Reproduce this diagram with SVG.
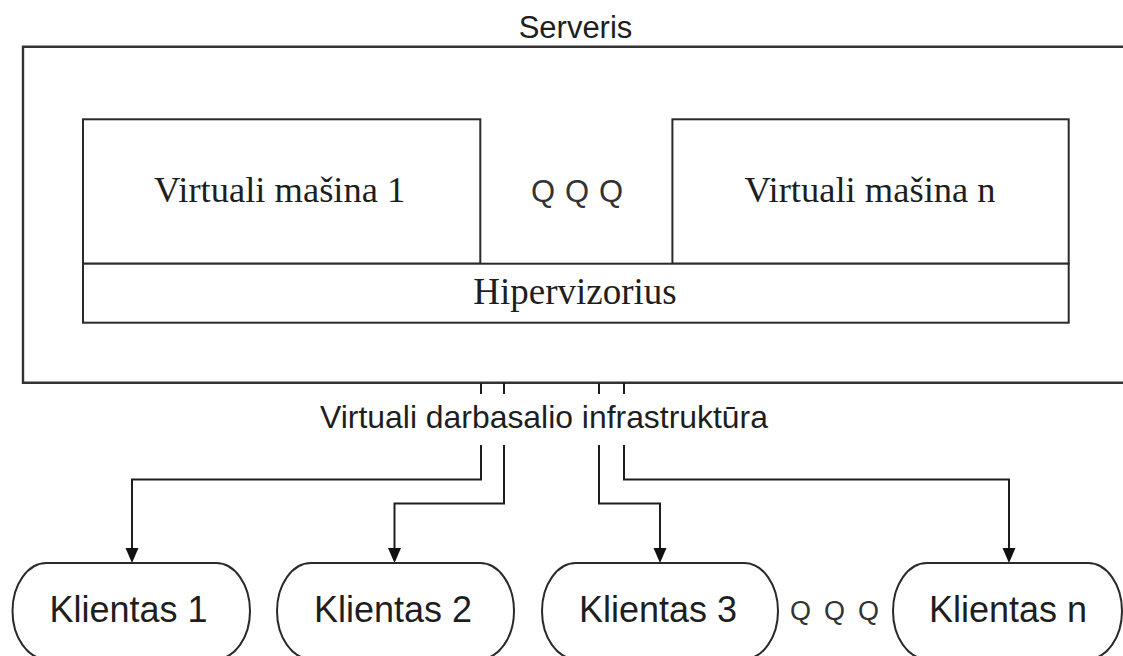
<svg xmlns="http://www.w3.org/2000/svg" width="1123" height="656" viewBox="0 0 1123 656">
  <style>
    .box { fill: #ffffff; stroke: #2a2a2a; stroke-width: 2; }
    .frame { fill: none; stroke: #333333; stroke-width: 2.4; }
    .wire { fill: none; stroke: #1e1e1e; stroke-width: 2; }
    .sans { font-family: "Liberation Sans", Arial, sans-serif; fill: #1e1e1e; }
    .serif { font-family: "Liberation Serif", "Times New Roman", serif; fill: #1e1e1e; }
    .dots { font-family: "Liberation Sans", Arial, sans-serif; fill: #333333; }
  </style>
  <defs>
    <marker id="arrow" viewBox="0 -7 15 14" refX="3" refY="0" markerWidth="15" markerHeight="14" markerUnits="userSpaceOnUse" orient="auto">
      <path d="M0,-6.5 L15,0 L0,6.5 Z" fill="#111111"/>
    </marker>
  </defs>

  <rect width="1123" height="656" fill="#ffffff"/>

  <!-- server enclosure, open to the right -->
  <g id="server">
    <path class="frame" d="M1130,46.7 H23 V382.7 H1130"/>
    <text class="sans" x="575.5" y="38" font-size="31" text-anchor="middle">Serveris</text>
  </g>

  <g id="vm1">
    <rect class="box" x="83" y="119.3" width="397.3" height="144.4"/>
    <text class="serif" x="279.7" y="202" font-size="36.5" text-anchor="middle">Virtuali mašina 1</text>
  </g>

  <g id="vm-gap">
    <text class="dots" x="531 565 599" y="202" font-size="31">QQQ</text>
  </g>

  <g id="vmn">
    <rect class="box" x="672.4" y="119.3" width="396.3" height="144.4"/>
    <text class="serif" x="870" y="202" font-size="36.5" text-anchor="middle">Virtuali mašina n</text>
  </g>

  <g id="hypervisor">
    <rect class="box" x="83" y="263.7" width="985.7" height="59"/>
    <text class="serif" x="575" y="304" font-size="37" text-anchor="middle">Hipervizorius</text>
  </g>

  <g id="vdi-label">
    <text class="sans" x="544" y="428" font-size="31.9" text-anchor="middle">Virtuali darbasalio infrastruktūra</text>
  </g>

  <g id="connectors">
    <!-- stubs below the server -->
    <path class="wire" d="M481,383 V394 M504,383 V394 M599,383 V394 M624,383 V394"/>
    <!-- routes to the clients -->
    <path class="wire" d="M481,445 V479.5 H132 V551" marker-end="url(#arrow)"/>
    <path class="wire" d="M504,445 V503.5 H394.5 V551" marker-end="url(#arrow)"/>
    <path class="wire" d="M599,445 V503.5 H660 V551" marker-end="url(#arrow)"/>
    <path class="wire" d="M624,445 V479.5 H1009 V551" marker-end="url(#arrow)"/>
  </g>

  <g id="client1">
    <rect class="box" x="12.5" y="563" width="237.5" height="96" rx="34" ry="48"/>
    <text class="sans" x="128.5" y="621.5" font-size="36" text-anchor="middle">Klientas 1</text>
  </g>

  <g id="client2">
    <rect class="box" x="277" y="563" width="237" height="96" rx="34" ry="48"/>
    <text class="sans" x="393" y="621.5" font-size="36" text-anchor="middle">Klientas 2</text>
  </g>

  <g id="client3">
    <rect class="box" x="542" y="563" width="236" height="96" rx="34" ry="48"/>
    <text class="sans" x="658" y="621.5" font-size="36" text-anchor="middle">Klientas 3</text>
  </g>

  <g id="client-gap">
    <text class="dots" x="790 824 858" y="620" font-size="27">QQQ</text>
  </g>

  <g id="clientn">
    <rect class="box" x="893" y="563" width="229" height="96" rx="34" ry="48"/>
    <text class="sans" x="1008" y="621.5" font-size="36" text-anchor="middle">Klientas n</text>
  </g>
</svg>
